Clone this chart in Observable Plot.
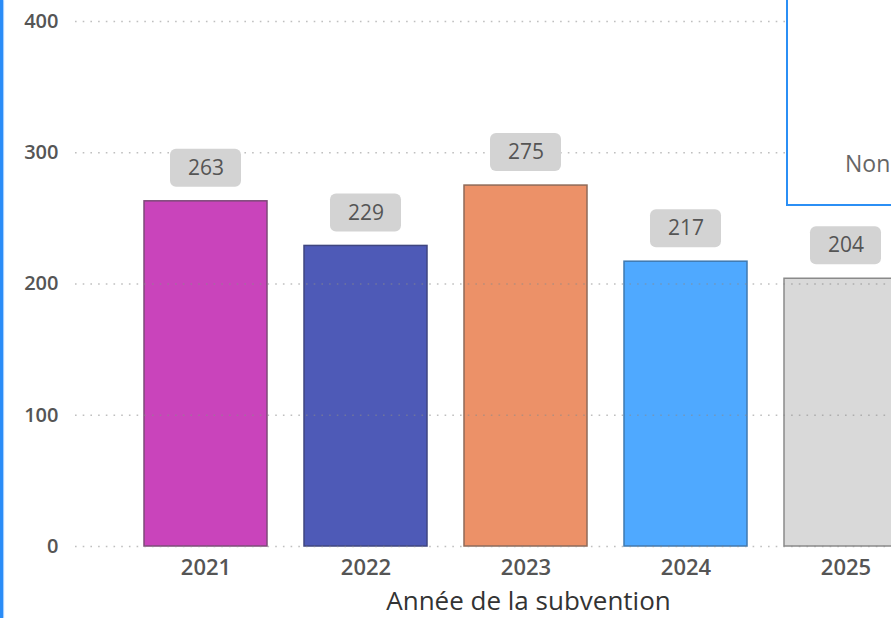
<!DOCTYPE html>
<html>
<head>
<meta charset="utf-8">
<script src="https://cdn.jsdelivr.net/npm/d3@7"></script>
<script src="https://cdn.jsdelivr.net/npm/@observablehq/plot@0.6"></script>
<style>
  html, body { margin: 0; padding: 0; overflow: hidden; background: #fff; width: 891px; height: 618px; }
  #wrap { position: relative; width: 891px; height: 618px; overflow: hidden; }
  #leftbar { position: absolute; left: 0; top: 0; width: 3px; height: 618px; background: #2a8cf7; box-shadow: 1px 0 1px #9ccaff; }
  #box { position: absolute; left: 786px; top: -4px; width: 200px; height: 210px; border: 2px solid #2b8ff5; background: #fff; box-sizing: border-box; }
  #box span { position: absolute; left: 57px; top: 149px; font: 23px "Open Sans", sans-serif; color: #666; white-space: nowrap; }
  g[aria-label="y-axis tick label"] text, g[aria-label="y-axis tick label"] { font-size: 20px !important; font-weight: 600 !important; }
  g[aria-label="x-axis tick label"] text, g[aria-label="x-axis tick label"] { font-size: 22px !important; font-weight: 600 !important; }
  g[aria-label="xtitle"] text { letter-spacing: 1.3px; }
</style>
</head>
<body>
<div id="wrap"></div>
<script>
const years = ["2021", "2022", "2023", "2024", "2025"];
const counts = [263, 229, 275, 217, 204];
const fills = ["#c944bb", "#4e5ab7", "#ec9168", "#4fa9ff", "#d9d9d9"];
const strokes = ["#7d4a78", "#3f4680", "#8f6a58", "#3f79b0", "#8a8a8a"];
const yTicks = [0, 100, 200, 300, 400];
const xTitle = "Année de la subvention";
const boxText = "Non";

const data = years.map((y, i) => ({year: y, v: counts[i], fill: fills[i], stroke: strokes[i]}));

const font = '"Open Sans", "Segoe UI", sans-serif';

const chart = Plot.plot({
  width: 891,
  height: 618,
  marginLeft: 105,
  marginRight: -56,
  marginTop: 21,
  marginBottom: 72,
  style: {fontFamily: font, overflow: "visible", background: "transparent"},
  x: {domain: years, padding: 0.23, label: null},
  y: {domain: [0, 400], label: null},
  marks: [
    Plot.barY(data, {x: "year", y: "v", fill: d => d.fill, stroke: d => d.stroke, strokeWidth: 1.5}),
    Plot.ruleY(yTicks, {stroke: "#8a8a8a", strokeOpacity: 0.55, strokeWidth: 1.6, strokeDasharray: "1.6,6.1", insetLeft: -30}),
    Plot.barY(data, {x: "year", y1: "v", y2: "v", insetTop: -52, insetBottom: 14, insetLeft: 26, insetRight: 26, rx: 6, fill: "#d3d3d3"}),
    Plot.text(data, {x: "year", y: "v", text: d => String(d.v), dy: -33, fill: "#555", fontSize: 21, fontFamily: font}),
    Plot.axisY({ticks: yTicks, tickSize: 0, tickPadding: 47, tickFormat: d => String(d), fontSize: 20, fontWeight: 600, fill: "#555", label: null}),
    Plot.axisX({tickSize: 0, tickPadding: 13, fontSize: 22, fontWeight: 600, fill: "#555", label: null}),
    Plot.text([xTitle], {frameAnchor: "bottom", dy: 63, dx: 2, text: d => d, fontSize: 26, fill: "#333", fontFamily: font, ariaLabel: "xtitle"})
  ]
});

const wrap = document.getElementById("wrap");
wrap.appendChild(chart);
chart.style.position = "absolute";
chart.style.left = "0";
chart.style.top = "0";
const lb = document.createElement("div"); lb.id = "leftbar"; wrap.appendChild(lb);
const box = document.createElement("div"); box.id = "box";
const sp = document.createElement("span"); sp.textContent = boxText; box.appendChild(sp);
wrap.appendChild(box);
</script>
</body>
</html>
